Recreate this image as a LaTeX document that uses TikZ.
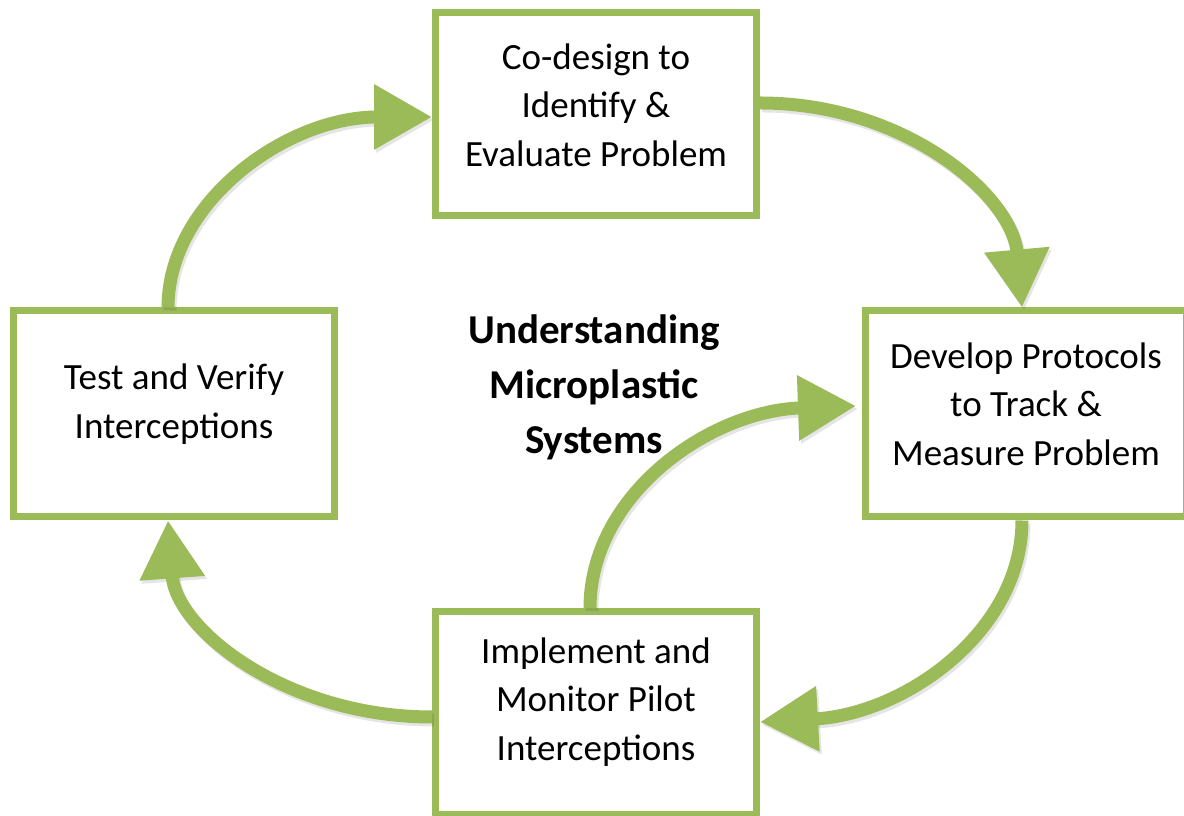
\documentclass[tikz,border=0pt]{standalone}
\usepackage{fontspec}
\setmainfont{Carlito}
\usetikzlibrary{arrows.meta}
\definecolor{og}{HTML}{9BBB59}
\begin{document}
\begin{tikzpicture}[x=1pt,y=1pt,
  box/.style={draw=og, line width=7pt, fill=white, minimum width=321pt, inner sep=0pt},
  lbl/.style={align=center, font=\fontsize{37}{48.5}\selectfont},
  ttl/.style={align=center, font=\fontsize{41}{55}\selectfont\bfseries},
  flow/.style={draw=og, line width=13pt, -{Triangle[length=58pt,width=62pt]}},
  shade/.style={draw=black, opacity=0.10, line width=13pt, -{Triangle[length=58pt,width=62pt]}, transform canvas={shift={(2pt,-3pt)}}}]
\useasboundingbox (0,0) rectangle (1184,816);
% boxes
\node[box, minimum height=203pt] (top) at (596,702) {};
\node[box, minimum height=206pt] (left) at (174,402) {};
\node[box, minimum height=206pt] (right) at (1026,402) {};
\node[box, minimum height=203pt] (bottom) at (596,103) {};
% texts
\node[lbl] (toptext) at (596,711) {Co-design to\\Identify \&\\Evaluate Problem};
\node[lbl] (lefttext) at (174,412) {Test and Verify\\Interceptions};
\node[lbl] (righttext) at (1026,412) {Develop Protocols\\to Track \&\\Measure Problem};
\node[lbl] (bottomtext) at (596,114) {Implement and\\Monitor Pilot\\Interceptions};
\node[ttl] (title) at (594,429) {Understanding\\Microplastic\\Systems};
% arrow shadows
\draw[shade] ([xshift=-6pt]left.north) .. controls +(0,105) and +(-146,0) .. ([yshift=-3pt]top.west);
\draw[shade] ([yshift=11pt]top.east) .. controls +(145,0) and +(-10,112) .. ([xshift=-4pt]right.north);
\draw[shade] ([xshift=-4pt]right.south) .. controls +(0,-111) and +(145,8) .. ([yshift=-9pt]bottom.east);
\draw[shade] ([yshift=-4pt]bottom.west) .. controls +(-146,0) and +(8,-109) .. ([xshift=-6pt]left.south);
\draw[shade] ([xshift=-6pt]bottom.north) .. controls +(0,113) and +(-147,-5) .. ([xshift=-6pt,yshift=8pt]right.west);
% arrows
\draw[flow] ([xshift=-6pt]left.north) .. controls +(0,105) and +(-146,0) .. ([yshift=-3pt]top.west);
\draw[flow] ([yshift=11pt]top.east) .. controls +(145,0) and +(-10,112) .. ([xshift=-4pt]right.north);
\draw[flow] ([xshift=-4pt]right.south) .. controls +(0,-111) and +(145,8) .. ([yshift=-9pt]bottom.east);
\draw[flow] ([yshift=-4pt]bottom.west) .. controls +(-146,0) and +(8,-109) .. ([xshift=-6pt]left.south);
\draw[flow] ([xshift=-6pt]bottom.north) .. controls +(0,113) and +(-147,-5) .. ([xshift=-6pt,yshift=8pt]right.west);
\end{tikzpicture}
\end{document}
